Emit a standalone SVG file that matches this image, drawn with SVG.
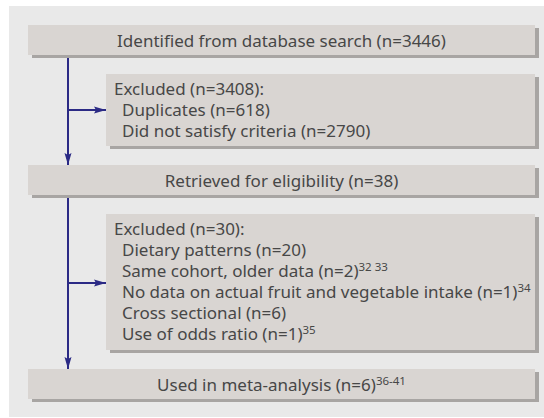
<svg xmlns="http://www.w3.org/2000/svg" width="544" height="418" viewBox="0 0 544 418">
<defs>
<style>
.panel{fill:#e9e9e9}
.box{fill:#d9d5d2}
.shadow{fill:#a8a5a3}
text{font-family:"Noto Sans","Open Sans","DejaVu Sans",sans-serif;font-size:17px;fill:#474747}
.c{text-anchor:middle}
.sup{font-size:11.5px}
.conn{stroke:#2b2a85;stroke-width:2;fill:none}
</style>
<marker id="arr" markerUnits="userSpaceOnUse" markerWidth="13" markerHeight="8" refX="12" refY="4" orient="auto">
<path d="M0,0.5 L12,4 L0,7.5 L2,4 Z" fill="#2b2a85"/>
</marker>
</defs>
<rect class="panel" x="9" y="6" width="535" height="411"/>
<g id="connectors">
<path class="conn" d="M68,55 V165" marker-end="url(#arr)"/>
<path class="conn" d="M68,110 H106" marker-end="url(#arr)"/>
<path class="conn" d="M68,195 V369" marker-end="url(#arr)"/>
<path class="conn" d="M68,283 H106" marker-end="url(#arr)"/>
</g>
<g id="identified">
<rect class="shadow" x="32" y="28" width="507" height="30"/>
<rect class="box" x="28" y="25" width="507" height="30"/>
<text class="c" x="281.5" y="46.5">Identified from database search (n=3446)</text>
</g>
<g id="excluded1">
<rect class="shadow" x="110" y="77" width="429" height="72"/>
<rect class="box" x="106" y="74" width="429" height="72"/>
<text x="114" y="95">Excluded (n=3408):</text>
<text x="122" y="116">Duplicates (n=618)</text>
<text x="122" y="137">Did not satisfy criteria (n=2790)</text>
</g>
<g id="retrieved">
<rect class="shadow" x="32" y="168" width="507" height="30"/>
<rect class="box" x="28" y="165" width="507" height="30"/>
<text class="c" x="281.5" y="186.5">Retrieved for eligibility (n=38)</text>
</g>
<g id="excluded2">
<rect class="shadow" x="110" y="217" width="429" height="136"/>
<rect class="box" x="106" y="214" width="429" height="136"/>
<text x="114" y="235">Excluded (n=30):</text>
<text x="122" y="256">Dietary patterns (n=20)</text>
<text x="122" y="277">Same cohort, older data (n=2)<tspan class="sup" dy="-6">32 33</tspan></text>
<text x="122" y="298">No data on actual fruit and vegetable intake (n=1)<tspan class="sup" dy="-6">34</tspan></text>
<text x="122" y="319">Cross sectional (n=6)</text>
<text x="122" y="340">Use of odds ratio (n=1)<tspan class="sup" dy="-6">35</tspan></text>
</g>
<g id="used">
<rect class="shadow" x="32" y="372" width="507" height="30"/>
<rect class="box" x="28" y="369" width="507" height="30"/>
<text class="c" x="281.5" y="390.5">Used in meta-analysis (n=6)<tspan class="sup" dy="-6">36-41</tspan></text>
</g>
</svg>
